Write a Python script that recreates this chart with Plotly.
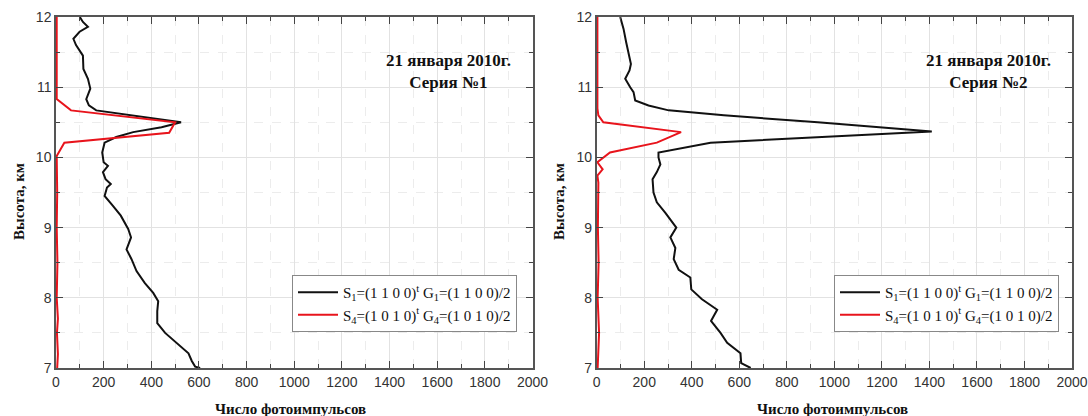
import plotly.graph_objects as go

# ---------------- data ----------------
# Series 1 (left panel)
alt_s1_a = [12.0, 11.93, 11.86, 11.79, 11.69, 11.6, 11.45, 11.26, 11.12, 10.98, 10.83, 10.74, 10.67,
            10.5, 10.43, 10.36, 10.29, 10.21, 10.07, 9.93, 9.88, 9.79, 9.69, 9.62, 9.57, 9.45, 9.31,
            9.17, 8.98, 8.86, 8.69, 8.55, 8.38, 8.21, 8.07, 7.95, 7.81, 7.64, 7.5, 7.36, 7.21, 7.1,
            7.02, 7.0]
cnt_s1_a = [100, 113, 134, 99, 73, 84, 113, 115, 134, 144, 127, 138, 169,
            525, 443, 324, 253, 204, 194, 200, 218, 197, 208, 230, 214, 204, 239,
            272, 303, 315, 296, 317, 338, 373, 408, 429, 425, 425, 458, 507, 556, 570,
            584, 605]
alt_s4_a = [12.0, 11.0, 10.83, 10.67, 10.5, 10.35, 10.21, 10.02, 9.5, 9.0, 8.5, 8.0, 7.7, 7.5, 7.2, 7.0]
cnt_s4_a = [3, 3, 3, 63, 500, 475, 35, 3, 5, 3, 6, 3, 8, 4, 8, 5]

# Series 2 (right panel)
alt_s1_b = [12.0, 11.83, 11.64, 11.45, 11.33, 11.24, 11.12, 11.0, 10.93, 10.81, 10.74, 10.67, 10.6,
            10.5, 10.37, 10.21, 10.07, 10.0, 9.9, 9.79, 9.69, 9.5, 9.36, 9.21, 9.0, 8.86, 8.71,
            8.55, 8.4, 8.29, 8.12, 7.98, 7.83, 7.67, 7.5, 7.36, 7.21, 7.07, 7.02, 7.0]
cnt_s1_b = [99, 113, 124, 138, 144, 138, 120, 141, 155, 162, 218, 303, 535,
            930, 1410, 479, 260, 260, 268, 253, 235, 239, 253, 289, 335, 310, 331,
            324, 345, 394, 398, 443, 507, 481, 521, 549, 605, 608, 634, 648]
alt_s4_b = [12.0, 10.7, 10.6, 10.52, 10.5, 10.36, 10.21, 10.07, 9.98, 9.93, 9.83, 9.74, 9.64,
            9.0, 8.5, 8.0, 7.5, 7.0]
cnt_s4_b = [3, 3, 7, 21, 28, 355, 253, 56, 21, 3, 25, 3, 7, 5, 8, 4, 10, 4]

name_s1 = "S<sub>1</sub>=(1 1 0 0)<sup>t</sup> G<sub>1</sub>=(1 1 0 0)/2"
name_s4 = "S<sub>4</sub>=(1 0 1 0)<sup>t</sup> G<sub>4</sub>=(1 0 1 0)/2"
panel_titles = ["21 января 2010г.<br>Серия №1", "21 января 2010г.<br>Серия №2"]
y_title = "Высота, км"
x_title = "Число фотоимпульсов"

# ---------------- layout geometry ----------------
W, H = 1088, 416
T, B = 17, 48
PH = H - T - B


def px_x(px):
    return px / W


def px_y(py):
    return (H - B - py) / PH


SERIF = "Liberation Serif, Times New Roman, serif"
SANS = "Liberation Sans, Arial, sans-serif"

fig = go.Figure()
fig.add_trace(go.Scatter(x=cnt_s1_a, y=alt_s1_a, mode="lines", name=name_s1,
                         line=dict(color="#111111", width=2), xaxis="x", yaxis="y", legend="legend"))
fig.add_trace(go.Scatter(x=cnt_s4_a, y=alt_s4_a, mode="lines", name=name_s4,
                         line=dict(color="#e8141c", width=2), xaxis="x", yaxis="y", legend="legend"))
fig.add_trace(go.Scatter(x=cnt_s1_b, y=alt_s1_b, mode="lines", name=name_s1,
                         line=dict(color="#111111", width=2), xaxis="x2", yaxis="y2", legend="legend2"))
fig.add_trace(go.Scatter(x=cnt_s4_b, y=alt_s4_b, mode="lines", name=name_s4,
                         line=dict(color="#e8141c", width=2), xaxis="x2", yaxis="y2", legend="legend2"))

axis_common = dict(
    showline=True, linecolor="#555555", linewidth=1.5, mirror="ticks",
    ticks="inside", ticklen=7, tickwidth=1.2, tickcolor="#444444",
    showgrid=True, gridcolor="#e2e2e2", gridwidth=1,
    zeroline=False, automargin=False, ticklabeloverflow="allow",
    tickfont=dict(family=SANS, size=14, color="#333333"),
)
xaxis_common = dict(axis_common, range=[0, 2000], dtick=200, tick0=0,
                    minor=dict(dtick=100, ticks="inside", ticklen=4, tickcolor="#444444",
                               showgrid=True, gridcolor="#ececec", griddash="dash"))
yaxis_common = dict(axis_common, range=[7, 12], dtick=1, tick0=7,
                    minor=dict(dtick=0.5, ticks="inside", ticklen=4, tickcolor="#444444",
                               showgrid=True, gridcolor="#ececec", griddash="dash"))

d1 = [px_x(56), px_x(532.5)]
d2 = [px_x(596.7), px_x(1072)]

legend_style = dict(xanchor="left", yanchor="top",
                    bordercolor="#888888", borderwidth=1, bgcolor="white",
                    font=dict(family=SERIF, size=15, color="#111111"),
                    tracegroupgap=0, itemwidth=40)

fig.update_layout(
    width=W, height=H,
    margin=dict(l=0, r=0, t=T, b=B),
    paper_bgcolor="white", plot_bgcolor="white",
    xaxis=dict(xaxis_common, domain=d1, anchor="y"),
    yaxis=dict(yaxis_common, domain=[0, 1], anchor="x"),
    xaxis2=dict(xaxis_common, domain=d2, anchor="y2"),
    yaxis2=dict(yaxis_common, domain=[0, 1], anchor="x2"),
    legend=dict(legend_style, x=px_x(292), y=px_y(275)),
    legend2=dict(legend_style, x=px_x(834), y=px_y(275)),
    showlegend=True,
)

annotations = []
for cx, txt in [(448, panel_titles[0]), (988, panel_titles[1])]:
    annotations.append(dict(x=px_x(cx), y=px_y(71), xref="paper", yref="paper",
                            text="<b>" + txt + "</b>", showarrow=False, align="center",
                            xanchor="center", yanchor="middle",
                            font=dict(family=SERIF, size=17, color="#111111")))
for cx in [19, 559]:
    annotations.append(dict(x=px_x(cx), y=px_y(202), xref="paper", yref="paper",
                            text="<b>" + y_title + "</b>", showarrow=False, textangle=-90,
                            xanchor="center", yanchor="middle",
                            font=dict(family=SERIF, size=15, color="#111111")))
for cx in [290, 832]:
    annotations.append(dict(x=px_x(cx), y=px_y(409), xref="paper", yref="paper",
                            text="<b>" + x_title + "</b>", showarrow=False,
                            xanchor="center", yanchor="middle",
                            font=dict(family=SERIF, size=15, color="#111111")))
fig.update_layout(annotations=annotations)

fig.write_html("out.html")
